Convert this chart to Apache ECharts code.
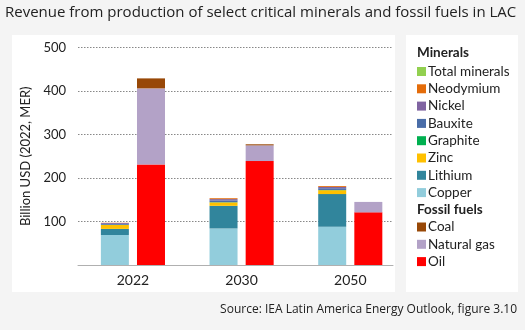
<!DOCTYPE html>
<html><head><meta charset="utf-8">
<script src="https://cdn.jsdelivr.net/npm/echarts@6/dist/echarts.min.js"></script>
<style>html,body{margin:0;padding:0;background:#f4f4f4}#c{width:525px;height:330px}</style>
</head><body><div id="c"></div>
<script>
const categories = ['2022', '2030', '2050'];
const yTicks = [0, 100, 200, 300, 400, 500];
// Minerals (stacked bottom to top)
const copper      = [69, 84, 88];
const lithium     = [14, 52, 75];
const zinc        = [9, 8, 9];
const graphite    = [0.5, 0.5, 0.5];
const bauxite     = [2, 4, 4];
const nickel      = [2, 3, 3];
const neodymium   = [0.5, 2, 2];
const totalMinerals = [0, 0, 0];
// Fossil fuels
const oil        = [231, 239, 121];
const naturalGas = [175, 36, 24];
const coal       = [23, 2.5, 0];

const FONT = 'Lato';
const TXT = '#222';
const colors = {
  'Total minerals': '#92D050', 'Neodymium': '#E46C0A', 'Nickel': '#8064A2', 'Bauxite': '#4A6DA8',
  'Graphite': '#00B050', 'Zinc': '#FFC000', 'Lithium': '#31859C', 'Copper': '#92CDDC',
  'Coal': '#984807', 'Natural gas': '#B3A2C7', 'Oil': '#FF0000'
};
const mineralSeries = [
  ['Copper', copper], ['Lithium', lithium], ['Zinc', zinc], ['Graphite', graphite],
  ['Bauxite', bauxite], ['Nickel', nickel], ['Neodymium', neodymium], ['Total minerals', totalMinerals]
];
const fossilSeries = [['Oil', oil], ['Natural gas', naturalGas], ['Coal', coal]];

const series = [];
mineralSeries.forEach(([n, d]) => series.push({
  name: n, type: 'bar', stack: 'min', data: d, xAxisIndex: 1, yAxisIndex: 1,
  barWidth: 28, barGap: '29%', itemStyle: { color: colors[n] }
}));
fossilSeries.forEach(([n, d]) => series.push({
  name: n, type: 'bar', stack: 'fos', data: d, xAxisIndex: 1, yAxisIndex: 1,
  barWidth: 28, barGap: '29%', itemStyle: { color: colors[n] }
}));

const legendText = { fontFamily: FONT, fontSize: 13.5, color: TXT, padding: [0, 0, 0, -3] };
const chart = echarts.init(document.getElementById('c'), null, { renderer: 'canvas' });
chart.setOption({
  backgroundColor: '#f4f4f4',
  animation: false,
  textStyle: { fontFamily: FONT },
  graphic: [
    { type: 'rect', z: -10, shape: { x: 12, y: 35, width: 383, height: 257 }, style: { fill: '#fff' } },
    { type: 'rect', z: -10, shape: { x: 406, y: 35, width: 112, height: 257 }, style: { fill: '#fff' } },
    { type: 'text', left: 5, top: 5, style: { text: 'Revenue from production of select critical minerals and fossil fuels in LAC', font: '15px "Open Sans"', fill: TXT } },
    { type: 'text', right: 8, top: 304, style: { text: 'Source: IEA Latin America Energy Outlook, figure 3.10', font: '12px "Open Sans"', fill: TXT } },
    { type: 'text', left: 417, top: 46, style: { text: 'Minerals', font: 'bold 13.5px Lato', fill: TXT } },
    { type: 'text', left: 417, top: 203, style: { text: 'Fossil fuels', font: 'bold 13.5px Lato', fill: TXT } }
  ],
  legend: [
    { data: mineralSeries.map(s => s[0]).reverse(), orient: 'vertical', left: 417, top: 64.5, icon: 'rect', itemWidth: 9, itemHeight: 9, itemGap: 3.3, textStyle: legendText, padding: 0, selectedMode: false },
    { data: ['Coal', 'Natural gas', 'Oil'], orient: 'vertical', left: 417, top: 220, icon: 'rect', itemWidth: 9, itemHeight: 9, itemGap: 3.3, textStyle: legendText, padding: 0, selectedMode: false }
  ],
  grid: [
    { left: 78, top: 47.5, width: 315, bottom: 65, containLabel: false },
    { left: 78.6, top: 47.5, width: 326, bottom: 65, containLabel: false }
  ],
  xAxis: [
    { type: 'category', gridIndex: 0, data: categories, axisLabel: { show: false }, axisTick: { show: false }, axisLine: { lineStyle: { color: '#b0b0b0', width: 1 } } },
    { type: 'category', gridIndex: 1, data: categories, axisTick: { show: false }, axisLine: { show: false }, axisLabel: { fontFamily: FONT, fontSize: 14, color: TXT, margin: 8 } }
  ],
  yAxis: [
    { type: 'value', gridIndex: 0, min: 0, max: 500, interval: 100,
      name: 'Billion USD (2022, MER)', nameLocation: 'middle', nameGap: 39, nameRotate: 90,
      nameTextStyle: { fontFamily: FONT, fontSize: 13, color: TXT },
      axisLabel: { fontFamily: FONT, fontSize: 13, color: TXT, margin: 12, formatter: v => (v === 0 ? '' : String(v)) },
      axisLine: { show: false }, axisTick: { show: false },
      splitLine: { lineStyle: { color: '#888', type: [1.5, 1.5], width: 1.2 } } },
    { type: 'value', gridIndex: 1, min: 0, max: 500, interval: 100, show: false, splitLine: { show: false } }
  ],
  series: series
});
</script></body></html>
